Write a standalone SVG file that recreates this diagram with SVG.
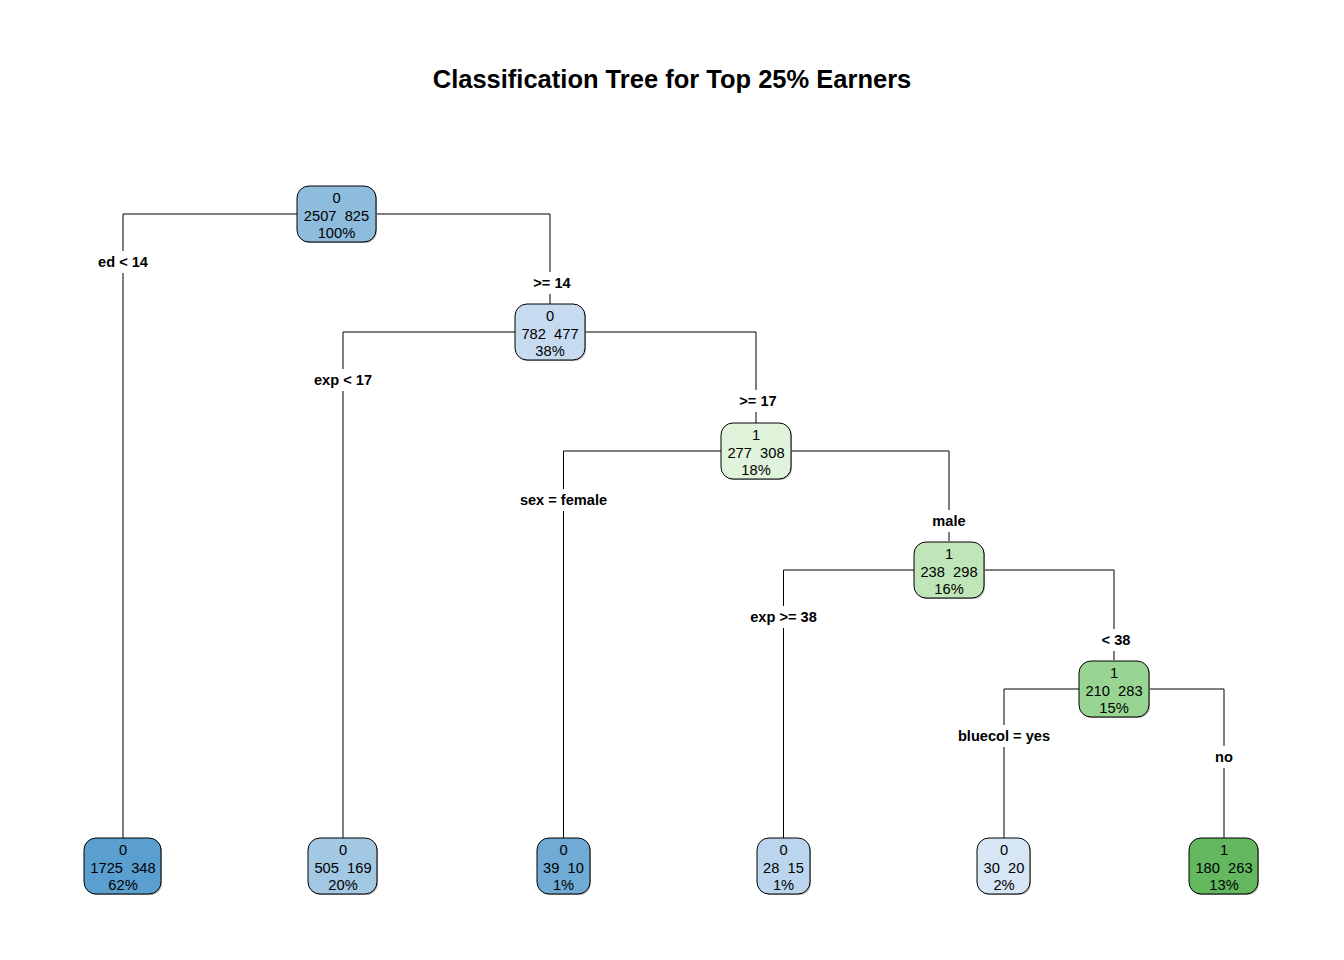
<svg xmlns="http://www.w3.org/2000/svg" width="1344" height="960" viewBox="0 0 1344 960">
<style>
.title{font-family:"Liberation Sans",Arial,sans-serif;font-weight:bold;font-size:25.5px;fill:#000;text-anchor:middle}
.nt{font-family:"Liberation Sans",Arial,sans-serif;font-size:14.7px;fill:#000;text-anchor:middle}
.lb{font-family:"Liberation Sans",Arial,sans-serif;font-weight:bold;font-size:14.6px;fill:#000;text-anchor:middle}
.box{stroke:#000;stroke-width:1}
.sh{fill:#b0b0b0}
.cn line{stroke:#000;stroke-width:1}
</style>
<rect width="1344" height="960" fill="#fff"/>
<text class="title" x="672" y="88">Classification Tree for Top 25% Earners</text>

<g id="connectors" class="cn">
<line x1="123" y1="214" x2="297" y2="214"/>
<line x1="123" y1="214" x2="123" y2="251"/>
<line x1="123" y1="273" x2="123" y2="838"/>
<line x1="376" y1="214" x2="550" y2="214"/>
<line x1="550" y1="214" x2="550" y2="272"/>
<line x1="550" y1="294" x2="550" y2="304"/>

<line x1="343" y1="332" x2="515" y2="332"/>
<line x1="343" y1="332" x2="343" y2="369"/>
<line x1="343" y1="391" x2="343" y2="838"/>
<line x1="585" y1="332" x2="756" y2="332"/>
<line x1="756" y1="332" x2="756" y2="390"/>
<line x1="756" y1="412" x2="756" y2="423"/>

<line x1="563.5" y1="451" x2="721" y2="451"/>
<line x1="563.5" y1="451" x2="563.5" y2="489"/>
<line x1="563.5" y1="511" x2="563.5" y2="838"/>
<line x1="792" y1="451" x2="949" y2="451"/>
<line x1="949" y1="451" x2="949" y2="510"/>
<line x1="949" y1="532" x2="949" y2="541"/>

<line x1="783.5" y1="570" x2="914" y2="570"/>
<line x1="783.5" y1="570" x2="783.5" y2="606"/>
<line x1="783.5" y1="628" x2="783.5" y2="838"/>
<line x1="985" y1="570" x2="1114" y2="570"/>
<line x1="1114" y1="570" x2="1114" y2="629"/>
<line x1="1114" y1="651" x2="1114" y2="660"/>

<line x1="1004" y1="689" x2="1079" y2="689"/>
<line x1="1004" y1="689" x2="1004" y2="725"/>
<line x1="1004" y1="747" x2="1004" y2="838"/>
<line x1="1150" y1="689" x2="1224" y2="689"/>
<line x1="1224" y1="689" x2="1224" y2="746"/>
<line x1="1224" y1="768" x2="1224" y2="838"/>
</g>

<g id="labels">
<text class="lb" x="123" y="267">ed &lt; 14</text>
<text class="lb" x="552" y="288">&gt;= 14</text>
<text class="lb" x="343" y="385">exp &lt; 17</text>
<text class="lb" x="758" y="406">&gt;= 17</text>
<text class="lb" x="563.5" y="505">sex = female</text>
<text class="lb" x="949" y="526">male</text>
<text class="lb" x="783.5" y="622">exp &gt;= 38</text>
<text class="lb" x="1116" y="645">&lt; 38</text>
<text class="lb" x="1004" y="741">bluecol = yes</text>
<text class="lb" x="1224" y="762">no</text>
</g>

<g id="node1">
<rect class="sh" x="298" y="187" width="79" height="56" rx="12"/>
<rect class="box" x="297" y="186" width="79" height="56" rx="12" fill="#8DBCDC"/>
<text class="nt" x="336.5" y="203">0</text>
<text class="nt" x="336.5" y="220.5" xml:space="preserve">2507  825</text>
<text class="nt" x="336.5" y="238">100%</text>
</g>

<g id="node2">
<rect class="sh" x="516" y="305" width="70" height="56" rx="12"/>
<rect class="box" x="515" y="304" width="70" height="56" rx="12" fill="#C6DBEF"/>
<text class="nt" x="550" y="321">0</text>
<text class="nt" x="550" y="338.5" xml:space="preserve">782  477</text>
<text class="nt" x="550" y="356">38%</text>
</g>

<g id="node3">
<rect class="sh" x="722" y="424" width="70" height="56" rx="12"/>
<rect class="box" x="721" y="423" width="70" height="56" rx="12" fill="#E0F3DB"/>
<text class="nt" x="756" y="440">1</text>
<text class="nt" x="756" y="457.5" xml:space="preserve">277  308</text>
<text class="nt" x="756" y="475">18%</text>
</g>

<g id="node4">
<rect class="sh" x="915" y="543" width="70" height="56" rx="12"/>
<rect class="box" x="914" y="542" width="70" height="56" rx="12" fill="#BFE5B8"/>
<text class="nt" x="949" y="559">1</text>
<text class="nt" x="949" y="576.5" xml:space="preserve">238  298</text>
<text class="nt" x="949" y="594">16%</text>
</g>

<g id="node5">
<rect class="sh" x="1080" y="662" width="70" height="56" rx="12"/>
<rect class="box" x="1079" y="661" width="70" height="56" rx="12" fill="#98D593"/>
<text class="nt" x="1114" y="678">1</text>
<text class="nt" x="1114" y="695.5" xml:space="preserve">210  283</text>
<text class="nt" x="1114" y="713">15%</text>
</g>

<g id="leaf1">
<rect class="sh" x="85" y="839" width="77" height="56" rx="12"/>
<rect class="box" x="84" y="838" width="77" height="56" rx="12" fill="#5A9FCF"/>
<text class="nt" x="123" y="855">0</text>
<text class="nt" x="123" y="872.5" xml:space="preserve">1725  348</text>
<text class="nt" x="123" y="890">62%</text>
</g>

<g id="leaf2">
<rect class="sh" x="309" y="839" width="69" height="56" rx="12"/>
<rect class="box" x="308" y="838" width="69" height="56" rx="12" fill="#A3C8E4"/>
<text class="nt" x="343" y="855">0</text>
<text class="nt" x="343" y="872.5" xml:space="preserve">505  169</text>
<text class="nt" x="343" y="890">20%</text>
</g>

<g id="leaf3">
<rect class="sh" x="538" y="839" width="53" height="56" rx="12"/>
<rect class="box" x="537" y="838" width="53" height="56" rx="12" fill="#6FABD5"/>
<text class="nt" x="563.5" y="855">0</text>
<text class="nt" x="563.5" y="872.5" xml:space="preserve">39  10</text>
<text class="nt" x="563.5" y="890">1%</text>
</g>

<g id="leaf4">
<rect class="sh" x="758" y="839" width="53" height="56" rx="12"/>
<rect class="box" x="757" y="838" width="53" height="56" rx="12" fill="#BCD5EE"/>
<text class="nt" x="783.5" y="855">0</text>
<text class="nt" x="783.5" y="872.5" xml:space="preserve">28  15</text>
<text class="nt" x="783.5" y="890">1%</text>
</g>

<g id="leaf5">
<rect class="sh" x="978" y="839" width="53" height="56" rx="12"/>
<rect class="box" x="977" y="838" width="53" height="56" rx="12" fill="#D6E6F5"/>
<text class="nt" x="1004" y="855">0</text>
<text class="nt" x="1004" y="872.5" xml:space="preserve">30  20</text>
<text class="nt" x="1004" y="890">2%</text>
</g>

<g id="leaf6">
<rect class="sh" x="1190" y="839" width="69" height="56" rx="12"/>
<rect class="box" x="1189" y="838" width="69" height="56" rx="12" fill="#63B860"/>
<text class="nt" x="1224" y="855">1</text>
<text class="nt" x="1224" y="872.5" xml:space="preserve">180  263</text>
<text class="nt" x="1224" y="890">13%</text>
</g>
</svg>
